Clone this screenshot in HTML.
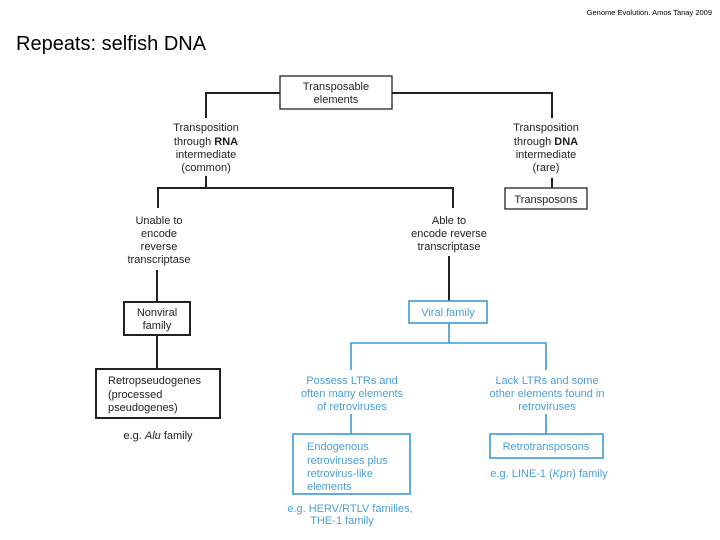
<!DOCTYPE html>
<html><head><meta charset="utf-8"><style>
html,body{margin:0;padding:0;background:#fff;}
svg{display:block;}
text{font-family:"Liberation Sans",Arial,sans-serif;}
</style></head><body>
<svg width="720" height="540" viewBox="0 0 720 540" xmlns="http://www.w3.org/2000/svg">
<text x="712" y="15" font-size="7.5" text-anchor="end" fill="#000">Genome Evolution. Amos Tanay 2009</text>
<text x="16" y="50" font-size="20" fill="#000">Repeats: selfish DNA</text>

<g stroke="#222" stroke-width="2" fill="none">
<rect x="280" y="76" width="112" height="33" stroke-width="1.3"/>
<polyline points="280,93 206,93 206,118"/>
<polyline points="392,93 552,93 552,118"/>
<line x1="206" y1="176" x2="206" y2="188"/>
<polyline points="158,208 158,188 453,188 453,208"/>
<line x1="552" y1="178" x2="552" y2="188"/>
<rect x="505" y="188" width="82" height="21" stroke-width="1.3"/>
<line x1="449" y1="256" x2="449" y2="301"/>
<line x1="157" y1="270" x2="157" y2="302"/>
<rect x="124" y="302" width="66" height="33"/>
<line x1="157" y1="335" x2="157" y2="369"/>
<rect x="96" y="369" width="124" height="49"/>
</g>

<g font-size="11" fill="#222" text-anchor="middle">
<text x="336" y="90">Transposable</text>
<text x="336" y="103">elements</text>
<text x="206" y="131">Transposition</text>
<text x="206" y="145">through <tspan font-weight="bold">RNA</tspan></text>
<text x="206" y="158">intermediate</text>
<text x="206" y="171">(common)</text>
<text x="546" y="131">Transposition</text>
<text x="546" y="145">through <tspan font-weight="bold">DNA</tspan></text>
<text x="546" y="158">intermediate</text>
<text x="546" y="171">(rare)</text>
<text x="546" y="203">Transposons</text>
<text x="159" y="224">Unable to</text>
<text x="159" y="237">encode</text>
<text x="159" y="250">reverse</text>
<text x="159" y="263">transcriptase</text>
<text x="449" y="224">Able to</text>
<text x="449" y="237">encode reverse</text>
<text x="449" y="250">transcriptase</text>
<text x="157" y="316">Nonviral</text>
<text x="157" y="329">family</text>
<text x="158" y="439">e.g. <tspan font-style="italic">Alu</tspan> family</text>
</g>
<g font-size="11" fill="#222">
<text x="108" y="384">Retropseudogenes</text>
<text x="108" y="398">(processed</text>
<text x="108" y="411">pseudogenes)</text>
</g>

<g stroke="#3d9ad6" stroke-width="1.6" fill="none">
<rect x="409" y="301" width="78" height="22"/>
<line x1="449" y1="323" x2="449" y2="343"/>
<polyline points="351,370 351,343 546,343 546,370"/>
<line x1="351" y1="414" x2="351" y2="434"/>
<rect x="293" y="434" width="117" height="60"/>
<line x1="546" y1="414" x2="546" y2="434"/>
<rect x="490" y="434" width="113" height="24"/>
</g>
<g font-size="11" fill="#4aa0d8" text-anchor="middle">
<text x="448" y="316">Viral family</text>
<text x="352" y="384">Possess LTRs and</text>
<text x="352" y="397">often many elements</text>
<text x="352" y="410">of retroviruses</text>
<text x="547" y="384">Lack LTRs and some</text>
<text x="547" y="397">other elements found in</text>
<text x="547" y="410">retroviruses</text>
<text x="546" y="450">Retrotransposons</text>
<text x="549" y="477">e.g. LINE-1 (<tspan font-style="italic">Kpn</tspan>) family</text>
<text x="350" y="512">e.g. HERV/RTLV families,</text>
<text x="342" y="524">THE-1 family</text>
</g>
<g font-size="11" fill="#4aa0d8">
<text x="307" y="450">Endogenous</text>
<text x="307" y="464">retroviruses plus</text>
<text x="307" y="477">retrovirus-like</text>
<text x="307" y="490">elements</text>
</g>
</svg>
</body></html>
